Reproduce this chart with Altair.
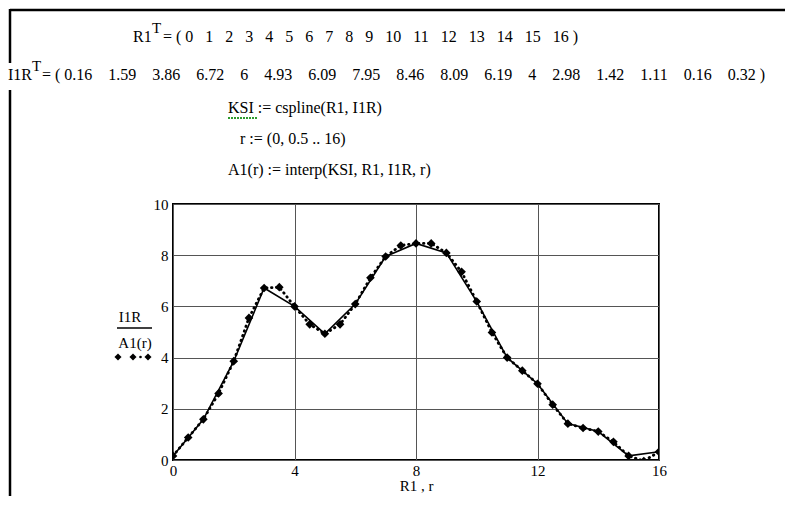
import altair as alt
import pandas as pd

# ---- data -------------------------------------------------------------
R1 = [0, 1, 2, 3, 4, 5, 6, 7, 8, 9, 10, 11, 12, 13, 14, 15, 16]
I1R = [0.16, 1.59, 3.86, 6.72, 6, 4.93, 6.09, 7.95, 8.46, 8.09, 6.19, 4, 2.98,
       1.42, 1.11, 0.16, 0.32]
r = [0, 0.5, 1, 1.5, 2, 2.5, 3, 3.5, 4, 4.5, 5, 5.5, 6, 6.5, 7, 7.5, 8, 8.5,
     9, 9.5, 10, 10.5, 11, 11.5, 12, 12.5, 13, 13.5, 14, 14.5, 15, 15.5, 16]
A1 = [0.16, 0.88, 1.59, 2.6, 3.86, 5.55, 6.72, 6.75, 6, 5.3, 4.93, 5.3, 6.09,
      7.12, 7.95, 8.38, 8.46, 8.46, 8.09, 7.35, 6.19, 4.98, 4, 3.49, 2.98,
      2.16, 1.42, 1.25, 1.11, 0.71, 0.16, -0.04, 0.32]
x_ticks = [0, 4, 8, 12, 16]
y_ticks = [0, 2, 4, 6, 8, 10]

NB = "\u00a0"
R1_text = "=" + NB + "(" + NB + (NB * 3).join(str(v) for v in R1) + NB + ")"
I1R_text = "=" + NB + "(" + NB + (NB * 4).join(f"{v:g}" for v in I1R) + NB + ")"

df_i = pd.DataFrame({"x": R1, "y": I1R})
df_a = pd.DataFrame({"x": r, "y": A1})
one = pd.DataFrame({"k": [0]})

FONT = "Liberation Serif"

xs = alt.Scale(domain=[0, 16], nice=False, zero=False)
ys = alt.Scale(domain=[0, 10], nice=False, zero=False)

xaxis = alt.Axis(values=x_ticks, title="R1 , r", grid=True, domain=False,
                 ticks=False, labelFont=FONT, labelFontSize=15,
                 labelColor="black", labelPadding=3, labelFlush=False,
                 titleFont=FONT, titleFontSize=15, titleFontWeight="normal",
                 titleColor="black", titlePadding=0, gridColor="#555555",
                 gridWidth=1)
yaxis = alt.Axis(values=y_ticks, title=None, grid=True, domain=False,
                 ticks=False, labelFont=FONT, labelFontSize=15,
                 labelColor="black", labelPadding=5, labelFlush=False,
                 gridColor="#555555", gridWidth=1)

solid = alt.Chart(df_i).mark_line(color="black", strokeWidth=1.6, clip=True).encode(
    x=alt.X("x:Q", scale=xs, axis=xaxis),
    y=alt.Y("y:Q", scale=ys, axis=yaxis),
)
dotted = alt.Chart(df_a).mark_line(color="black", strokeWidth=2.8,
                                   strokeDash=[0.5, 4.5], strokeCap="round",
                                   clip=True).encode(
    x=alt.X("x:Q", scale=xs), y=alt.Y("y:Q", scale=ys))
diam = alt.Chart(df_a).mark_point(shape="diamond", filled=True, color="black",
                                  opacity=1, size=75, clip=True).encode(
    x=alt.X("x:Q", scale=xs), y=alt.Y("y:Q", scale=ys))


def txt(s, x, y, size=16, align="left", color="black"):
    return alt.Chart(one).mark_text(text=s, align=align, baseline="alphabetic",
                                    font=FONT, fontSize=size, color=color).encode(
        x=alt.value(x), y=alt.value(y))


def hrule(x1, x2, y, w=2.0, color="black", dash=None):
    kw = dict(color=color, strokeWidth=w)
    if dash:
        kw["strokeDash"] = dash
    return alt.Chart(one).mark_rule(**kw).encode(
        x=alt.value(x1), x2=alt.value(x2), y=alt.value(y))


def vrule(x, y1, y2, w=2.0):
    return alt.Chart(one).mark_rule(color="black", strokeWidth=w).encode(
        x=alt.value(x), y=alt.value(y1), y2=alt.value(y2))


def dot(x, y, size=50, shape="diamond"):
    return alt.Chart(one).mark_point(shape=shape, filled=True, color="black",
                                     opacity=1, size=size).encode(
        x=alt.value(x), y=alt.value(y))


# positions relative to plot origin (page 173, 204)
layers = [
    solid, dotted, diam,
    # frame of the worksheet region
    hrule(-163, 614, -194, 2.5),
    vrule(-163, -195, -141, 2.5),
    vrule(-163, -114, 292, 2.5),
    # formulas
    txt("R1", -40, -162), txt("T", -21, -171, 15), txt(R1_text, -10, -162),
    txt("I1R", -165, -124), txt("T", -141, -133, 15), txt(I1R_text, -131, -124),
    txt("KSI := cspline(R1, I1R)", 55, -91),
    hrule(55, 84, -86, 2, "#2e9b2e", [2, 1]),
    txt("r := (0, 0.5 .. 16)", 67, -60),
    txt("A1(r) := interp(KSI, R1, I1R, r)", 55, -29),
    # y-axis label / legend
    txt("I1R", -43, 118, 15, "center"),
    hrule(-56, -21, 124, 1.3),
    txt("A1(r)", -38, 144, 15, "center"),
    dot(-55, 153), dot(-40, 153), dot(-25, 153),
    dot(-32.5, 153, 7, "circle"),
]

chart = alt.layer(*layers).properties(
    width=486, height=256,
    padding={"left": 165, "top": 196, "right": 126, "bottom": 36},
    autosize=alt.AutoSizeParams(type="none"),
    background="white",
).configure_view(stroke="black", strokeWidth=2)

chart.save("out.html", embed_options={"renderer": "svg", "actions": False})
